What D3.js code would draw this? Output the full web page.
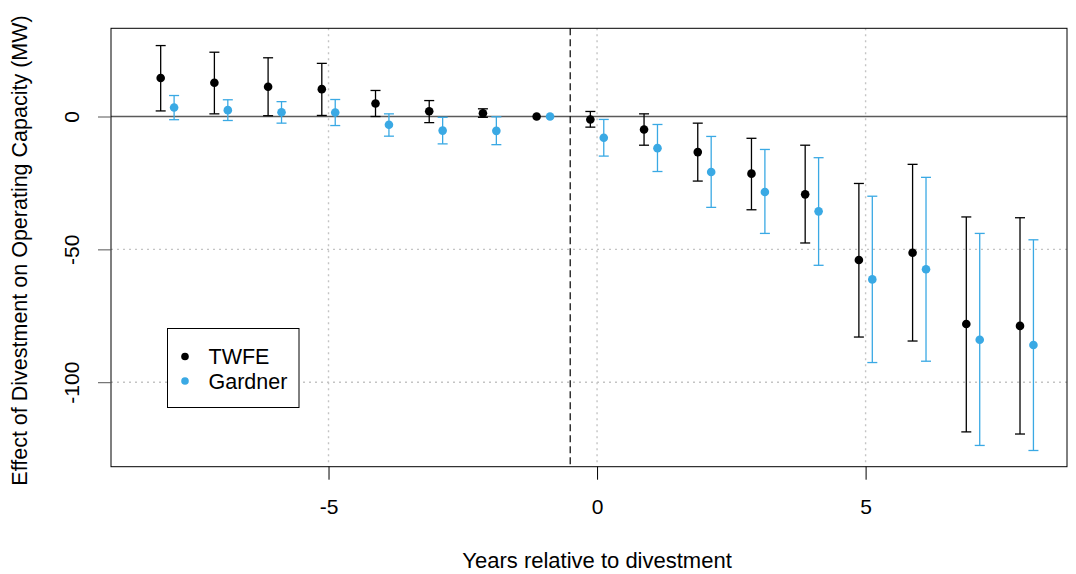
<!DOCTYPE html>
<html>
<head>
<meta charset="utf-8">
<script src="https://cdn.jsdelivr.net/npm/d3@7"></script>
<style>
  body { margin: 0; background: #fff; }
  svg { display: block; font-family: "Liberation Sans", Arial, sans-serif; }
</style>
</head>
<body>
<div id="chart"></div>
<script>
// Years relative to divestment
const periods = [-8, -7, -6, -5, -4, -3, -2, -1, 0, 1, 2, 3, 4, 5, 6, 7, 8];

// TWFE estimates and 95% CI
const twfeEst = [14.5, 12.7, 11.2, 10.3, 4.9, 2.0, 1.2, 0, -1.1, -4.9, -13.4, -21.5, -29.3, -54.0, -51.3, -78.1, -78.8];
const twfeLo  = [2.1, 1.0, 0.3, 0.4, 0, -2.3, -0.3, 0, -4.0, -10.8, -24.3, -35.1, -47.6, -83.0, -84.5, -118.7, -119.5];
const twfeHi  = [26.7, 24.2, 22.1, 20.0, 9.8, 6.0, 2.9, 0, 1.9, 1.0, -2.5, -8.2, -10.8, -25.2, -18.0, -37.8, -38.1];

// Gardner estimates and 95% CI
const gardEst = [3.4, 2.4, 1.6, 1.5, -3.1, -5.3, -5.4, 0, -8.0, -11.9, -20.9, -28.4, -35.7, -61.3, -57.5, -84.0, -86.0];
const gardLo  = [-1.2, -1.5, -2.5, -3.4, -7.4, -10.3, -10.6, 0, -14.9, -20.7, -34.2, -44.0, -56.0, -92.6, -92.1, -123.8, -125.7];
const gardHi  = [7.9, 6.3, 5.6, 6.4, 1.0, -0.3, -0.1, 0, -1.1, -3.0, -7.5, -12.4, -15.5, -30.0, -22.9, -44.0, -46.4];

const xTicks = [-5, 0, 5];
const yTicks = [0, -50, -100];
const gridX = [-5, 0, 5];
const gridY = [-50, -100];

const width = 1076;
const height = 574;
const plotL = 111, plotR = 1067, plotT = 28.3, plotB = 466.7;

const black = "#000000";
const blue = "#3aa9e4";

const svg = d3.select("#chart")
    .append("svg")
    .attr("width", width)
    .attr("height", height);

// échelles
const x = d3.scaleLinear().domain([-9.05, 8.75]).range([plotL, plotR]);
const y = d3.scaleLinear().domain([-131.8, 33.2]).range([plotB, plotT]);

// grille pointillée
svg.append("g").selectAll("line")
    .data(gridX)
    .join("line")
    .attr("x1", d => x(d)).attr("x2", d => x(d))
    .attr("y1", plotT).attr("y2", plotB)
    .attr("stroke", "#c4c4c4").attr("stroke-width", 1.4)
    .attr("stroke-dasharray", "2,4");

svg.append("g").selectAll("line")
    .data(gridY)
    .join("line")
    .attr("x1", plotL).attr("x2", plotR)
    .attr("y1", d => y(d)).attr("y2", d => y(d))
    .attr("stroke", "#c4c4c4").attr("stroke-width", 1.4)
    .attr("stroke-dasharray", "2,4");

// ligne zéro
svg.append("line")
    .attr("x1", plotL).attr("x2", plotR)
    .attr("y1", y(0)).attr("y2", y(0))
    .attr("stroke", "#5a5a5a").attr("stroke-width", 1.6);

// ligne de traitement
svg.append("line")
    .attr("x1", x(-0.5)).attr("x2", x(-0.5))
    .attr("y1", plotT).attr("y2", plotB)
    .attr("stroke", black).attr("stroke-width", 1.2)
    .attr("stroke-dasharray", "7,4");

// séries
const series = [
    { name: "TWFE", color: black, offset: -0.125, est: twfeEst, lo: twfeLo, hi: twfeHi },
    { name: "Gardner", color: blue, offset: 0.125, est: gardEst, lo: gardLo, hi: gardHi }
];

const cap = 5;

series.forEach(s => {
    const rows = periods.map((p, i) => ({ p: p, est: s.est[i], lo: s.lo[i], hi: s.hi[i] }));
    const bars = rows.filter(d => d.hi - d.lo > 0);
    const g = svg.append("g");

    g.selectAll("line.v")
        .data(bars)
        .join("line")
        .attr("class", "v")
        .attr("x1", d => x(d.p + s.offset)).attr("x2", d => x(d.p + s.offset))
        .attr("y1", d => y(d.lo)).attr("y2", d => y(d.hi))
        .attr("stroke", s.color).attr("stroke-width", 1.3);

    ["lo", "hi"].forEach(k => {
        g.selectAll("line.c" + k)
            .data(bars)
            .join("line")
            .attr("class", "c" + k)
            .attr("x1", d => x(d.p + s.offset) - cap).attr("x2", d => x(d.p + s.offset) + cap)
            .attr("y1", d => y(d[k])).attr("y2", d => y(d[k]))
            .attr("stroke", s.color).attr("stroke-width", 1.3);
    });

    g.selectAll("circle")
        .data(rows)
        .join("circle")
        .attr("cx", d => x(d.p + s.offset))
        .attr("cy", d => y(d.est))
        .attr("r", 4.3)
        .attr("fill", s.color);
});

// cadre
svg.append("rect")
    .attr("x", plotL).attr("y", plotT)
    .attr("width", plotR - plotL).attr("height", plotB - plotT)
    .attr("fill", "none").attr("stroke", black).attr("stroke-width", 1);

// axe X
const xAxis = svg.append("g")
    .attr("transform", `translate(0, ${plotB})`)
    .call(d3.axisBottom(x).tickValues(xTicks).tickSize(13).tickPadding(19).tickFormat(d3.format("d")))
    .call(g => g.select(".domain").remove());
xAxis.selectAll("line").attr("stroke", black);
xAxis.selectAll("text")
    .attr("font-size", "21px")
    .attr("fill", black)
    .attr("font-family", "Liberation Sans, Arial, sans-serif")
    .text(d => d < 0 ? "-" + Math.abs(d) : d);

// axe Y (libellés verticaux)
const yAxis = svg.append("g")
    .attr("transform", `translate(${plotL}, 0)`)
    .call(d3.axisLeft(y).tickValues(yTicks).tickSize(13).tickFormat(d => d < 0 ? "-" + Math.abs(d) : d))
    .call(g => g.select(".domain").remove());
yAxis.selectAll("line").attr("stroke", "#555");
yAxis.selectAll("text")
    .attr("font-size", "21px")
    .attr("fill", black)
    .attr("font-family", "Liberation Sans, Arial, sans-serif")
    .attr("x", null).attr("dy", null)
    .attr("text-anchor", "middle")
    .attr("transform", "translate(-32, 0) rotate(-90)");

// titres des axes
svg.append("text")
    .attr("x", x(0))
    .attr("y", 568)
    .attr("text-anchor", "middle")
    .attr("font-size", "22px")
    .text("Years relative to divestment");

svg.append("text")
    .attr("transform", `translate(27, ${(plotT + plotB) / 2 + 3}) rotate(-90)`)
    .attr("text-anchor", "middle")
    .attr("font-size", "21.5px")
    .text("Effect of Divestment on Operating Capacity (MW)");

// légende
const legend = svg.append("g");
legend.append("rect")
    .attr("x", 167.5).attr("y", 328.5)
    .attr("width", 131.5).attr("height", 79)
    .attr("fill", "#fff").attr("stroke", black).attr("stroke-width", 1);

series.forEach((s, i) => {
    const ly = 356.5 + i * 24.5;
    legend.append("circle")
        .attr("cx", 185).attr("cy", ly)
        .attr("r", 3.8).attr("fill", s.color);
    legend.append("text")
        .attr("x", 208.5).attr("y", ly)
        .attr("dy", "0.35em")
        .attr("font-size", "21.5px")
        .text(s.name);
});
</script>
</body>
</html>
